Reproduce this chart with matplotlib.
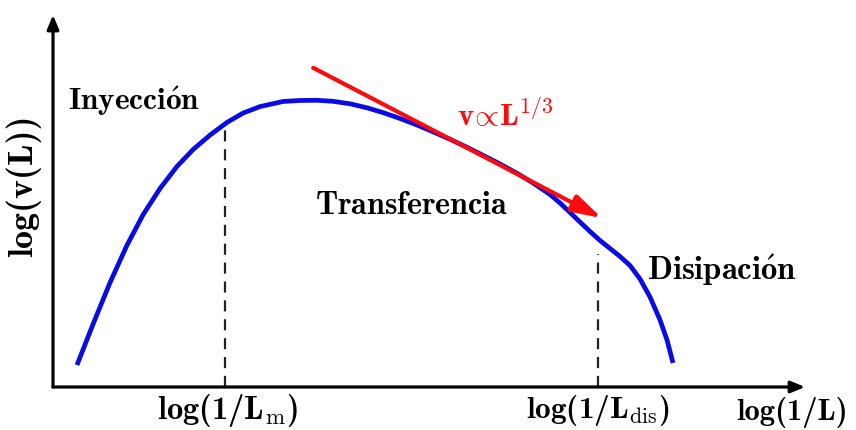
import numpy as np
import matplotlib
matplotlib.use("Agg")
import matplotlib.pyplot as plt

plt.rcParams['mathtext.fontset'] = 'cm'

# velocity spectrum sketch, log(1/L) vs log(v(L))
curve_x = [0.319, 0.532, 0.758, 0.984, 1.197, 1.423, 1.649, 1.862, 2.088, 2.314,
           2.527, 2.753, 3.059, 3.285, 3.511, 3.723, 3.949, 4.176, 4.388, 4.614,
           4.840, 5.053, 5.279, 5.505, 5.718, 5.944, 6.170, 6.383, 6.609, 6.742,
           6.875, 7.008, 7.141, 7.274, 7.407, 7.540, 7.673, 7.806, 7.939, 8.072,
           8.165, 8.245]
curve_y = [0.591, 1.688, 2.806, 3.812, 4.629, 5.336, 5.930, 6.382, 6.772, 7.113,
           7.363, 7.538, 7.675, 7.702, 7.707, 7.680, 7.613, 7.505, 7.376, 7.218,
           7.043, 6.860, 6.659, 6.444, 6.228, 5.995, 5.745, 5.484, 5.175, 4.946,
           4.691, 4.435, 4.180, 3.938, 3.723, 3.508, 3.266, 2.903, 2.419, 1.801,
           1.263, 0.645]

# scale markers (dashed) and their top ends
scale_x = [2.29, 7.25]
scale_top = [7.04, 3.57]
scale_labels = [r'log(1/L$_{\mathrm{m}}$)', r'log(1/L$_{\mathrm{dis}}$)']

# power-law slope arrow
slope_start = (3.46, 8.58)
slope_end = (7.30, 4.54)

fig = plt.figure(figsize=(8.56, 4.30), dpi=100)
ax = fig.add_axes([0, 0, 1, 1])
ax.set_xlim(-0.705, 10.678)
ax.set_ylim(-1.156, 10.403)
ax.axis('off')

# axes with arrows
for tip in [(10.0, 0), (0, 10.0)]:
    ax.annotate('', xy=tip, xytext=(0, 0),
                arrowprops=dict(arrowstyle='-|>,head_length=0.6,head_width=0.25',
                                lw=2.3, color='black', mutation_scale=14,
                                shrinkA=0, shrinkB=0))

for sx, st in zip(scale_x, scale_top):
    ax.plot([sx, sx], [0, st], color='#222222', lw=1.6, ls=(0, (5, 3.5)))

ax.plot(curve_x, curve_y, color='#0a0ae6', lw=3.4, solid_capstyle='butt',
        solid_joinstyle='round')

ax.annotate('', xy=slope_end, xytext=slope_start,
            arrowprops=dict(arrowstyle='-|>,head_length=1.3,head_width=0.38',
                            lw=3.0, color='#ff0a0a', mutation_scale=14,
                            shrinkA=0, shrinkB=0))

bold = dict(fontfamily='cmb10', ha='center', va='center')
ax.text(0.20, 7.69, r'$\mathbf{Inyecci\acute{o}n}$', fontsize=22.5, ha='left', va='center')
ax.text(3.48, 4.87, r'$\mathbf{Transferencia}$', fontsize=23, ha='left', va='center')
ax.text(7.90, 3.15, r'$\mathbf{Disipaci\acute{o}n}$', fontsize=23.5, ha='left', va='center')
ax.text(5.37, 7.31, r'v$\!\propto\!$L$^{\mathbf{1/3}}$', fontsize=22.5,
        fontfamily='cmb10', ha='left', va='center', color='#ff0a0a')

ax.text(scale_x[0] + 0.03, -0.62, scale_labels[0], fontsize=23.5, **bold)
ax.text(scale_x[1], -0.62, scale_labels[1], fontsize=22.5, **bold)
ax.text(9.83, -0.68, 'log(1/L)', fontsize=22, **bold)
ax.text(-0.40, 5.40, 'log(v(L))', fontsize=26, rotation=90, **bold)

fig.savefig('out.png', dpi=100)
